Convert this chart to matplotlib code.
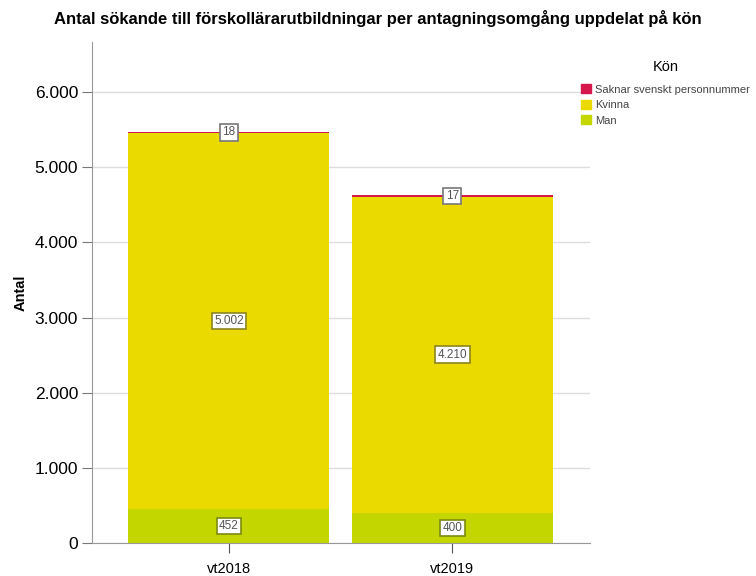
import numpy as np
import matplotlib.pyplot as plt
from matplotlib.patches import Patch
from matplotlib.ticker import FuncFormatter

plt.rcParams['font.family'] = ['Liberation Sans', 'DejaVu Sans']

# Data
omgangar = ['vt2018', 'vt2019']
man = np.array([452, 400])
kvinna = np.array([5002, 4210])
saknar = np.array([18, 17])

serier = ['Man', 'Kvinna', 'Saknar svenskt personnummer']
farger = {'Man': '#c4d600', 'Kvinna': '#ebda00', 'Saknar svenskt personnummer': '#d6174c'}
kantfarger = {'Man': '#7d8a10', 'Kvinna': '#8a8420', 'Saknar svenskt personnummer': '#777777'}
varden = {'Man': man, 'Kvinna': kvinna, 'Saknar svenskt personnummer': saknar}


def tusental(v):
    return f"{int(v):,}".replace(',', '.')


fig = plt.figure(figsize=(7.56, 5.76), dpi=100)
ax = fig.add_axes([0.1217, 0.0573, 0.6583, 0.8697])

x = np.arange(len(omgangar))
botten = np.zeros(len(omgangar))
for s in serier:
    v = varden[s]
    ax.bar(x, v, width=0.9, bottom=botten, color=farger[s], zorder=2)
    for xi, b, vi in zip(x, botten, v):
        ax.text(xi, b + vi / 2, tusental(vi), ha='center', va='center',
                fontsize=8.5, color='#555555', zorder=4,
                bbox=dict(boxstyle='square,pad=0.2', fc='white',
                          ec=kantfarger[s], lw=1.2))
    botten = botten + v

ax.set_xlim(-0.612, 1.614)
ax.set_ylim(0, 6665)
ax.set_yticks(np.arange(0, 7000, 1000))
ax.yaxis.set_major_formatter(FuncFormatter(lambda v, p: tusental(v)))
ax.set_xticks(x)
ax.set_xticklabels(omgangar)
ax.tick_params(axis='x', length=7, color='#555555', labelsize=10.5, pad=7)
ax.tick_params(axis='y', length=7, color='#777777', labelsize=12.5, pad=3)

ax.yaxis.grid(True, color='#dddddd', lw=1, zorder=0)
ax.set_axisbelow(True)
for side in ['top', 'right']:
    ax.spines[side].set_visible(False)
for side in ['left', 'bottom']:
    ax.spines[side].set_color('#999999')

ax.set_ylabel('Antal', fontsize=10.5, fontweight='bold', labelpad=5)

fig.text(0.5, 0.968, 'Antal sökande till förskollärarutbildningar per antagningsomgång uppdelat på kön',
         ha='center', va='center', fontsize=12, fontweight='bold')

handles = [Patch(color=farger[s]) for s in serier[::-1]]
leg = fig.legend(handles, serier[::-1], title='Kön', loc='upper left',
                 bbox_to_anchor=(0.769, 0.895), frameon=False, fontsize=8,
                 title_fontsize=10.5, handlelength=0.9, handleheight=0.9,
                 handletextpad=0.35, labelspacing=0.45, borderpad=0.0,
                 borderaxespad=0.0)
leg._legend_box.align = 'center'
leg._legend_box.sep = 7
for t in leg.get_texts():
    t.set_color('#444444')

fig.savefig('out.png', dpi=100)
